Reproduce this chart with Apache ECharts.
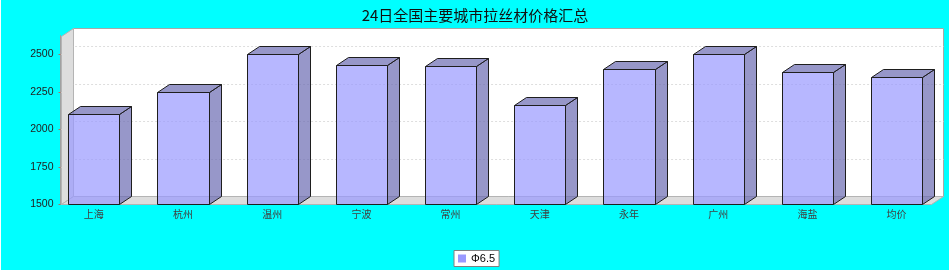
<!DOCTYPE html>
<html>
<head>
<meta charset="utf-8">
<script src="https://cdn.jsdelivr.net/npm/echarts@6/dist/echarts.min.js"></script>
<style>
  html, body { margin: 0; padding: 0; background: #ffffff; }
  #chart { position: absolute; left: 1px; top: 0; width: 948px; height: 270px; }
</style>
</head>
<body>
<div id="chart"></div>
<script>
// Wire-rod prices by city (Φ6.5)
const chartTitle = '24日全国主要城市拉丝材价格汇总';
const seriesName = 'Φ6.5';
const categories = ['上海', '杭州', '温州', '宁波', '常州', '天津', '永年', '广州', '海盐', '均价'];
const prices = [2100, 2250, 2500, 2430, 2420, 2160, 2400, 2500, 2380, 2350];
const yTicks = [1500, 1750, 2000, 2250, 2500];
const Y_MIN = 1500;
const Y_MAX = 2625;
const Y_STEP = 250;

// 3D depth offset of the walls and bars
const DX = 12;
const DY = 8;

const px = v => Math.round(v) + 0.5;

function renderWalls(params, api) {
  const fb = api.coord([0, Y_MIN]);   // front, left, bottom
  const ft = api.coord([1, Y_MAX]);   // front, right, top
  const l = px(fb[0]), r = px(ft[0]), b = px(fb[1]), t = px(ft[1]);
  const children = [];
  // back wall
  children.push({
    type: 'rect',
    shape: { x: l + DX, y: t - DY, width: r - l, height: b - t },
    style: { fill: '#ffffff', stroke: '#a8a8a8', lineWidth: 1 }
  });
  // left wall
  children.push({
    type: 'polygon',
    shape: { points: [[l, b], [l + DX, b - DY], [l + DX, t - DY], [l, t]] },
    style: { fill: '#dddddd', stroke: '#b4b4b4', lineWidth: 1 }
  });
  // floor
  children.push({
    type: 'polygon',
    shape: { points: [[l, b], [r, b], [r + DX, b - DY], [l + DX, b - DY]] },
    style: { fill: '#dddddd', stroke: '#b4b4b4', lineWidth: 1 }
  });
  // grid lines running across the left wall and the back wall
  yTicks.forEach(v => {
    if (v === Y_MIN) return;
    const y = px(api.coord([0, v])[1]);
    children.push({
      type: 'polyline',
      shape: { points: [[l, y], [l + DX, y - DY], [r + DX, y - DY]] },
      style: { fill: null, stroke: '#dedede', lineWidth: 1, lineDash: [2, 2] }
    });
  });
  return { type: 'group', children };
}

function renderBar(params, api) {
  const idx = api.value(0);
  const topPt = api.coord([idx, api.value(1)]);
  const basePt = api.coord([idx, Y_MIN]);
  const bw = api.size([1, 0])[0] * 0.572;
  const x0 = px(topPt[0] - bw / 2);
  const x1 = px(topPt[0] + bw / 2);
  const yt = px(topPt[1]);
  const yb = px(basePt[1]);
  const line = '#1e1e1e';
  const front = 'rgba(153,153,255,0.7)';
  const shade = 'rgba(107,107,178,0.7)';
  return {
    type: 'group',
    children: [
      {
        type: 'polygon',
        shape: { points: [[x1, yb], [x1 + DX, yb - DY], [x1 + DX, yt - DY], [x1, yt]] },
        style: { fill: shade, stroke: line, lineWidth: 1 }
      },
      {
        type: 'polygon',
        shape: { points: [[x0, yt], [x0 + DX, yt - DY], [x1 + DX, yt - DY], [x1, yt]] },
        style: { fill: shade, stroke: line, lineWidth: 1 }
      },
      {
        type: 'rect',
        shape: { x: x0, y: yt, width: x1 - x0, height: yb - yt },
        style: { fill: front, stroke: line, lineWidth: 1 }
      }
    ]
  };
}

const chart = echarts.init(document.getElementById('chart'), null, { renderer: 'canvas' });

chart.setOption({
  backgroundColor: '#00ffff',
  animation: false,
  title: {
    text: chartTitle,
    left: 'center',
    top: 3,
    textStyle: {
      fontFamily: '"Noto Sans CJK SC", sans-serif',
      fontSize: 15,
      fontWeight: 'normal',
      color: '#111111'
    }
  },
  legend: {
    data: [{ name: seriesName, icon: 'rect' }],
    left: 453,
    top: 250.5,
    padding: [2, 4, 2, 4],
    itemWidth: 8,
    itemHeight: 8,
    backgroundColor: '#ffffff',
    borderColor: '#808080',
    borderWidth: 1,
    borderRadius: 0,
    selectedMode: false,
    textStyle: {
      fontFamily: '"Liberation Sans", Arial, sans-serif',
      fontSize: 11,
      lineHeight: 12,
      color: '#000000'
    }
  },
  grid: [
    // front plane: value axis and walls
    { left: 59.5, right: 17.7, top: 35.5, bottom: 65.7 },
    // category bands for the bars
    { left: 48.2, right: 7.8, top: 35.5, bottom: 65.7 }
  ],
  xAxis: [
    { type: 'value', gridIndex: 0, min: 0, max: 1, show: false },
    {
      type: 'category',
      gridIndex: 1,
      data: categories,
      boundaryGap: true,
      axisLine: { show: false },
      axisTick: { show: false },
      splitLine: { show: false },
      axisLabel: {
        interval: 0,
        margin: 5,
        fontFamily: '"Noto Sans CJK SC", sans-serif',
        fontSize: 10,
        color: '#404040'
      }
    }
  ],
  yAxis: [
    {
      type: 'value',
      gridIndex: 0,
      min: Y_MIN,
      max: Y_MAX,
      interval: Y_STEP,
      axisLine: { show: true, lineStyle: { color: '#a0a0a0', width: 1 } },
      axisTick: { show: true, length: 2, lineStyle: { color: '#b07060', width: 1 } },
      splitLine: { show: false },
      axisLabel: {
        showMaxLabel: false,
        margin: 7,
        fontFamily: '"Liberation Sans", Arial, sans-serif',
        fontSize: 10.5,
        color: '#222222',
        formatter: v => (yTicks.indexOf(v) >= 0 ? String(v) : '')
      }
    },
    { type: 'value', gridIndex: 1, min: Y_MIN, max: Y_MAX, show: false }
  ],
  series: [
    {
      type: 'custom',
      name: 'walls',
      xAxisIndex: 0,
      yAxisIndex: 0,
      z: 1,
      silent: true,
      clip: false,
      renderItem: renderWalls,
      data: [[0, Y_MIN]]
    },
    {
      type: 'custom',
      name: seriesName,
      xAxisIndex: 1,
      yAxisIndex: 1,
      z: 3,
      clip: false,
      itemStyle: { color: '#9999ff' },
      renderItem: renderBar,
      encode: { x: 0, y: 1 },
      data: prices.map((v, i) => [i, v])
    }
  ]
});
</script>
</body>
</html>
